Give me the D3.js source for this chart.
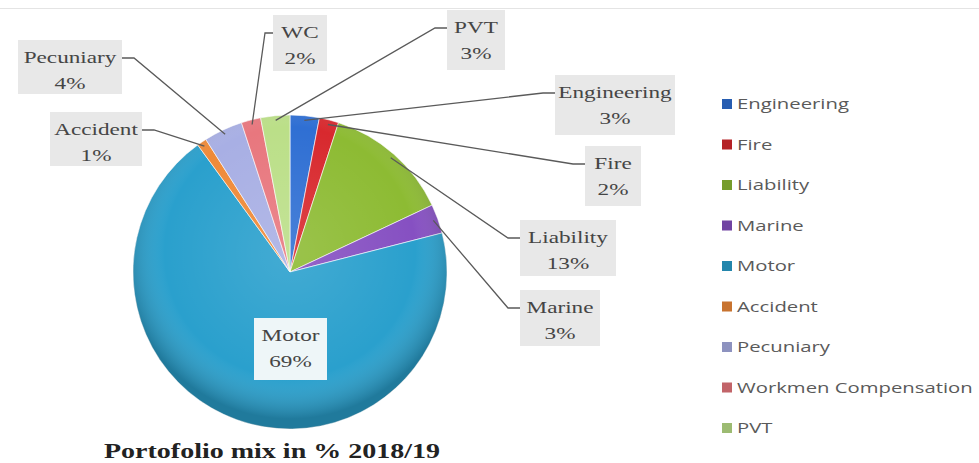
<!DOCTYPE html>
<html>
<head>
<meta charset="utf-8">
<script src="https://cdn.jsdelivr.net/npm/d3@7"></script>
<style>
  body { margin: 0; background: #fff; }
  svg { display: block; }
</style>
</head>
<body>
<div id="chart"></div>
<script>
"use strict";

var WIDTH = 979;
var HEIGHT = 463;

// Data (clockwise from 12 o'clock)
var categories = ["Engineering", "Fire", "Liability", "Marine", "Motor", "Accident", "Pecuniary", "Workmen Compensation", "PVT"];
var shortNames = ["Engineering", "Fire", "Liability", "Marine", "Motor", "Accident", "Pecuniary", "WC", "PVT"];
var shares = [3, 2, 13, 3, 69, 1, 4, 2, 3];
var colors = ["#2f6fd3", "#d8292e", "#8dbb33", "#8650c2", "#2aa0cd", "#ef8a38", "#a8afe4", "#e8777e", "#bbdf88"];
var title = "Portofolio mix in % 2018/19";

// Layout of the data label boxes (x, y, w, h), by short name
var labelBox = {
    "Engineering": [555, 75, 120, 60],
    "Fire": [585, 146, 56, 60],
    "Liability": [520, 220, 96, 56],
    "Marine": [520, 290, 80, 56],
    "Motor": [254, 318, 73, 62],
    "Accident": [50, 112, 92, 54],
    "Pecuniary": [18, 40, 104, 54],
    "WC": [273, 15, 54, 56],
    "PVT": [447, 10, 58, 60]
};

var CX = 290, CY = 272, R = 157;
var TEXT_SCALE = 1.45;
var LEGEND_SCALE = 1.45;

var svg = d3.select("#chart").append("svg")
    .attr("width", WIDTH)
    .attr("height", HEIGHT);

var defs = svg.append("defs");

// Soft shading over the pie
var shade = defs.append("radialGradient")
    .attr("id", "shade")
    .attr("gradientUnits", "userSpaceOnUse")
    .attr("cx", CX).attr("cy", CY - 20).attr("r", R + 10);
shade.append("stop").attr("offset", "0%").attr("stop-color", "#ffffff").attr("stop-opacity", 0.12);
shade.append("stop").attr("offset", "75%").attr("stop-color", "#ffffff").attr("stop-opacity", 0);
shade.append("stop").attr("offset", "100%").attr("stop-color", "#000000").attr("stop-opacity", 0.24);

// Faint frame line at the top
svg.append("line")
    .attr("x1", 0).attr("x2", WIDTH)
    .attr("y1", 8.5).attr("y2", 8.5)
    .style("stroke", "#e4e4e4")
    .style("stroke-width", 1);

var data = categories.map(function (c, i) {
    return { name: c, short: shortNames[i], value: shares[i], color: colors[i] };
});

var pie = d3.pie().sort(null).value(function (d) { return d.value; });
var arcs = pie(data);
var arc = d3.arc().innerRadius(0).outerRadius(R);

var plot = svg.append("g").attr("transform", translate(CX, CY));

plot.selectAll("path.slice").data(arcs).enter().append("path")
    .attr("class", "slice")
    .attr("d", arc)
    .style("fill", function (d) { return d.data.color; })
    .style("stroke", "#ffffff")
    .style("stroke-opacity", 0.6)
    .style("stroke-width", 1);

// Shading on top of the slices
svg.append("circle")
    .attr("cx", CX).attr("cy", CY).attr("r", R)
    .style("fill", "url(#shade)");

// Leader lines
var leaders = svg.append("g");
arcs.forEach(function (d) {
    var name = d.data.short;
    if (name === "Motor") return;
    var b = labelBox[name];
    var mid = (d.startAngle + d.endAngle) / 2;
    var sx = CX + R * 0.97 * Math.sin(mid);
    var sy = CY - R * 0.97 * Math.cos(mid);
    var right = b[0] > CX - 20;
    var ex = right ? b[0] : b[0] + b[2];
    var ey = b[1] + 18;
    var elbowX = (name === "WC") ? ex - 8 : (right ? ex - 12 : ex + 12);
    leaders.append("path")
        .attr("d", "M" + sx + "," + sy + "L" + elbowX + "," + ey + "L" + ex + "," + ey)
        .style("fill", "none")
        .style("stroke", "#5a5a5a")
        .style("stroke-width", 1.3);
});

// Data labels
var labels = svg.selectAll("g.label").data(arcs).enter().append("g")
    .attr("class", "label");

labels.append("rect")
    .attr("x", function (d) { return labelBox[d.data.short][0]; })
    .attr("y", function (d) { return labelBox[d.data.short][1]; })
    .attr("width", function (d) { return labelBox[d.data.short][2]; })
    .attr("height", function (d) { return labelBox[d.data.short][3]; })
    .style("fill", function (d) { return d.data.short === "Motor" ? "#eef6f8" : "#e8e8e8"; });

labels.each(function (d) {
    var b = labelBox[d.data.short];
    var g = d3.select(this).append("g")
        .attr("transform", translate(b[0] + b[2] / 2, b[1]) + " scale(" + TEXT_SCALE + ",1)");
    [d.data.short, d.data.value + "%"].forEach(function (line, i) {
        g.append("text")
            .text(line)
            .attr("x", 0)
            .attr("y", 23 + i * 26)
            .attr("text-anchor", "middle")
            .style("font-family", "'Liberation Serif', 'DejaVu Serif', serif")
            .style("font-size", "16px")
            .style("fill", "#454545");
    });
});

// Legend
var legend = svg.append("g").attr("transform", translate(722, 104));
data.forEach(function (d, i) {
    var row = legend.append("g").attr("transform", translate(0, i * 40.5));
    row.append("rect")
        .attr("x", 0).attr("y", -5)
        .attr("width", 10).attr("height", 10)
        .style("fill", d3.color(d.color).darker(0.5));
    row.append("text")
        .text(d.name)
        .attr("transform", translate(15, 5) + " scale(" + LEGEND_SCALE + ",1)")
        .style("font-family", "'Open Sans', 'Liberation Sans', sans-serif")
        .style("font-size", "14px")
        .style("fill", "#5a5a5a");
});

// Title
svg.append("text")
    .text(title)
    .attr("x", 272)
    .attr("y", 458)
    .attr("text-anchor", "middle")
    .attr("textLength", 336)
    .attr("lengthAdjust", "spacingAndGlyphs")
    .style("font-family", "'Liberation Serif', 'DejaVu Serif', serif")
    .style("font-weight", "bold")
    .style("font-size", "21px")
    .style("fill", "#222222");

function translate(x, y) {
    return "translate(" + x + "," + y + ")";
}
</script>
</body>
</html>
